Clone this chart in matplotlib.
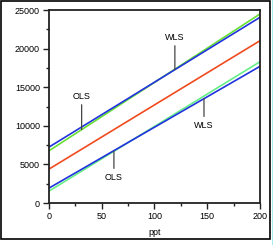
import matplotlib.pyplot as plt
from matplotlib.patches import Rectangle
from matplotlib.ticker import MultipleLocator

plt.rcParams['font.family'] = ['Liberation Sans', 'DejaVu Sans']

# regression lines, values at ppt = 0 and ppt = 200
ppt = [0, 200]
upper_ols = [6770, 24480]
upper_wls = [7250, 24050]
center = [4400, 21020]
lower_ols = [1550, 18300]
lower_wls = [1940, 17700]

# label, point on line (x, y), text position (x, y)
labels = [
    ('OLS', (31, 9515), (31, 13860)),
    ('WLS', (119.4, 17280), (119.4, 21500)),
    ('WLS', (147, 13520), (147, 10100)),
    ('OLS', (61.6, 6710), (61.6, 3370)),
]

fig = plt.figure(figsize=(2.75, 2.45), dpi=100)
ax = fig.add_axes([0.178, 0.171, 0.767, 0.788])

ax.plot(ppt, upper_ols, color='#66e033', lw=1.2)
ax.plot(ppt, upper_wls, color='#2233dd', lw=1.2)
ax.plot(ppt, center, color='#f04a1e', lw=1.2)
ax.plot(ppt, lower_ols, color='#66ee88', lw=1.2)
ax.plot(ppt, lower_wls, color='#2233dd', lw=1.2)

for txt, xy, xyt in labels:
    ax.annotate(txt, xy=xy, xytext=xyt, ha='center', va='center', fontsize=6.5,
                arrowprops=dict(arrowstyle='-', color='#444444', lw=0.9,
                                shrinkA=1, shrinkB=0))

ax.set_xlim(0, 200)
ax.set_ylim(0, 25000)
ax.xaxis.set_major_locator(MultipleLocator(50))
ax.xaxis.set_minor_locator(MultipleLocator(25))
ax.yaxis.set_major_locator(MultipleLocator(5000))
ax.yaxis.set_minor_locator(MultipleLocator(2500))
ax.tick_params(which='both', direction='out', labelsize=6.5, width=1, color='#222222')
ax.tick_params(which='major', length=4, pad=2.5)
ax.tick_params(which='minor', length=2.5)
for s in ax.spines.values():
    s.set_linewidth(1.3)
    s.set_color('#222222')
ax.set_xlabel('ppt', fontsize=6.5, labelpad=5)

# outer frame
fig.patches.append(Rectangle((0.004, 0.025), 0.978, 0.97, transform=fig.transFigure,
                             fill=False, edgecolor='black', lw=1.2))
fig.patches.append(Rectangle((0.988, 0.0), 0.006, 1.0, transform=fig.transFigure,
                             facecolor='#a8e8f0', edgecolor='none'))

fig.savefig('out.png', dpi=100)
